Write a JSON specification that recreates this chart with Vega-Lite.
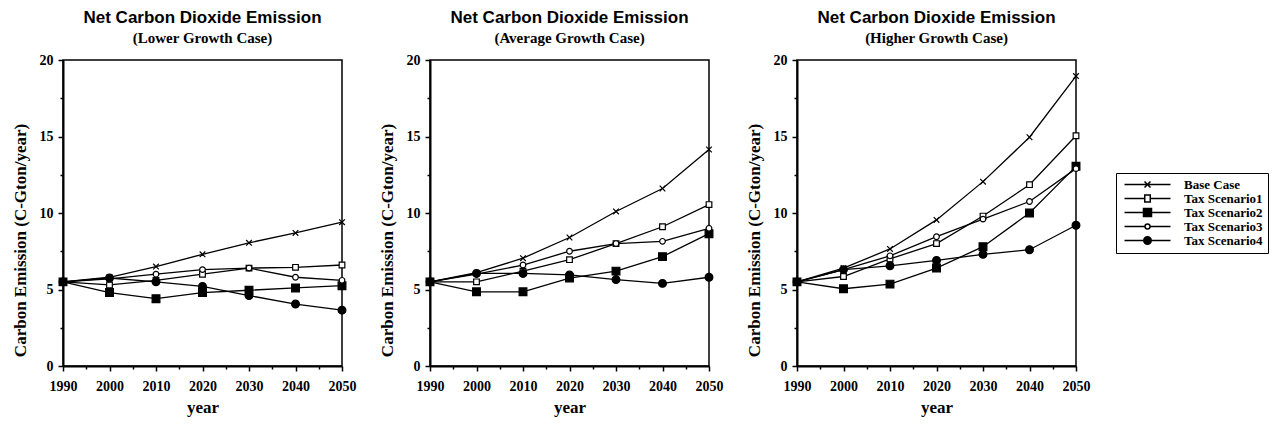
{
  "$schema": "https://vega.github.io/schema/vega-lite/v6.json",
  "background": "white",
  "padding": {"left": 10, "top": 8, "right": 5, "bottom": 5},
  "spacing": 20,
  "resolve": {"scale": {"shape": "independent", "fill": "independent"}},
  "datasets": {
    "emissions": [
      {"case": "Lower", "series": "Base Case", "year": 1990, "value": 5.5},
      {"case": "Lower", "series": "Base Case", "year": 2000, "value": 5.8},
      {"case": "Lower", "series": "Base Case", "year": 2010, "value": 6.5},
      {"case": "Lower", "series": "Base Case", "year": 2020, "value": 7.3},
      {"case": "Lower", "series": "Base Case", "year": 2030, "value": 8.05},
      {"case": "Lower", "series": "Base Case", "year": 2040, "value": 8.7},
      {"case": "Lower", "series": "Base Case", "year": 2050, "value": 9.4},
      {"case": "Lower", "series": "Tax Scenario1", "year": 1990, "value": 5.5},
      {"case": "Lower", "series": "Tax Scenario1", "year": 2000, "value": 5.3},
      {"case": "Lower", "series": "Tax Scenario1", "year": 2010, "value": 5.6},
      {"case": "Lower", "series": "Tax Scenario1", "year": 2020, "value": 6.0},
      {"case": "Lower", "series": "Tax Scenario1", "year": 2030, "value": 6.4},
      {"case": "Lower", "series": "Tax Scenario1", "year": 2040, "value": 6.45},
      {"case": "Lower", "series": "Tax Scenario1", "year": 2050, "value": 6.6},
      {"case": "Lower", "series": "Tax Scenario2", "year": 1990, "value": 5.5},
      {"case": "Lower", "series": "Tax Scenario2", "year": 2000, "value": 4.8},
      {"case": "Lower", "series": "Tax Scenario2", "year": 2010, "value": 4.4},
      {"case": "Lower", "series": "Tax Scenario2", "year": 2020, "value": 4.8},
      {"case": "Lower", "series": "Tax Scenario2", "year": 2030, "value": 4.95},
      {"case": "Lower", "series": "Tax Scenario2", "year": 2040, "value": 5.1},
      {"case": "Lower", "series": "Tax Scenario2", "year": 2050, "value": 5.25},
      {"case": "Lower", "series": "Tax Scenario3", "year": 1990, "value": 5.5},
      {"case": "Lower", "series": "Tax Scenario3", "year": 2000, "value": 5.7},
      {"case": "Lower", "series": "Tax Scenario3", "year": 2010, "value": 6.0},
      {"case": "Lower", "series": "Tax Scenario3", "year": 2020, "value": 6.3},
      {"case": "Lower", "series": "Tax Scenario3", "year": 2030, "value": 6.4},
      {"case": "Lower", "series": "Tax Scenario3", "year": 2040, "value": 5.8},
      {"case": "Lower", "series": "Tax Scenario3", "year": 2050, "value": 5.6},
      {"case": "Lower", "series": "Tax Scenario4", "year": 1990, "value": 5.5},
      {"case": "Lower", "series": "Tax Scenario4", "year": 2000, "value": 5.75},
      {"case": "Lower", "series": "Tax Scenario4", "year": 2010, "value": 5.5},
      {"case": "Lower", "series": "Tax Scenario4", "year": 2020, "value": 5.2},
      {"case": "Lower", "series": "Tax Scenario4", "year": 2030, "value": 4.6},
      {"case": "Lower", "series": "Tax Scenario4", "year": 2040, "value": 4.05},
      {"case": "Lower", "series": "Tax Scenario4", "year": 2050, "value": 3.65},

      {"case": "Average", "series": "Base Case", "year": 1990, "value": 5.5},
      {"case": "Average", "series": "Base Case", "year": 2000, "value": 6.1},
      {"case": "Average", "series": "Base Case", "year": 2010, "value": 7.05},
      {"case": "Average", "series": "Base Case", "year": 2020, "value": 8.4},
      {"case": "Average", "series": "Base Case", "year": 2030, "value": 10.1},
      {"case": "Average", "series": "Base Case", "year": 2040, "value": 11.6},
      {"case": "Average", "series": "Base Case", "year": 2050, "value": 14.15},
      {"case": "Average", "series": "Tax Scenario1", "year": 1990, "value": 5.5},
      {"case": "Average", "series": "Tax Scenario1", "year": 2000, "value": 5.5},
      {"case": "Average", "series": "Tax Scenario1", "year": 2010, "value": 6.2},
      {"case": "Average", "series": "Tax Scenario1", "year": 2020, "value": 6.95},
      {"case": "Average", "series": "Tax Scenario1", "year": 2030, "value": 8.0},
      {"case": "Average", "series": "Tax Scenario1", "year": 2040, "value": 9.1},
      {"case": "Average", "series": "Tax Scenario1", "year": 2050, "value": 10.55},
      {"case": "Average", "series": "Tax Scenario2", "year": 1990, "value": 5.5},
      {"case": "Average", "series": "Tax Scenario2", "year": 2000, "value": 4.85},
      {"case": "Average", "series": "Tax Scenario2", "year": 2010, "value": 4.85},
      {"case": "Average", "series": "Tax Scenario2", "year": 2020, "value": 5.75},
      {"case": "Average", "series": "Tax Scenario2", "year": 2030, "value": 6.2},
      {"case": "Average", "series": "Tax Scenario2", "year": 2040, "value": 7.15},
      {"case": "Average", "series": "Tax Scenario2", "year": 2050, "value": 8.65},
      {"case": "Average", "series": "Tax Scenario3", "year": 1990, "value": 5.5},
      {"case": "Average", "series": "Tax Scenario3", "year": 2000, "value": 6.0},
      {"case": "Average", "series": "Tax Scenario3", "year": 2010, "value": 6.6},
      {"case": "Average", "series": "Tax Scenario3", "year": 2020, "value": 7.5},
      {"case": "Average", "series": "Tax Scenario3", "year": 2030, "value": 8.0},
      {"case": "Average", "series": "Tax Scenario3", "year": 2040, "value": 8.15},
      {"case": "Average", "series": "Tax Scenario3", "year": 2050, "value": 9.0},
      {"case": "Average", "series": "Tax Scenario4", "year": 1990, "value": 5.5},
      {"case": "Average", "series": "Tax Scenario4", "year": 2000, "value": 6.05},
      {"case": "Average", "series": "Tax Scenario4", "year": 2010, "value": 6.05},
      {"case": "Average", "series": "Tax Scenario4", "year": 2020, "value": 5.95},
      {"case": "Average", "series": "Tax Scenario4", "year": 2030, "value": 5.65},
      {"case": "Average", "series": "Tax Scenario4", "year": 2040, "value": 5.4},
      {"case": "Average", "series": "Tax Scenario4", "year": 2050, "value": 5.8},

      {"case": "Higher", "series": "Base Case", "year": 1990, "value": 5.5},
      {"case": "Higher", "series": "Base Case", "year": 2000, "value": 6.4},
      {"case": "Higher", "series": "Base Case", "year": 2010, "value": 7.65},
      {"case": "Higher", "series": "Base Case", "year": 2020, "value": 9.55},
      {"case": "Higher", "series": "Base Case", "year": 2030, "value": 12.05},
      {"case": "Higher", "series": "Base Case", "year": 2040, "value": 14.95},
      {"case": "Higher", "series": "Base Case", "year": 2050, "value": 18.95},
      {"case": "Higher", "series": "Tax Scenario1", "year": 1990, "value": 5.5},
      {"case": "Higher", "series": "Tax Scenario1", "year": 2000, "value": 5.85},
      {"case": "Higher", "series": "Tax Scenario1", "year": 2010, "value": 7.0},
      {"case": "Higher", "series": "Tax Scenario1", "year": 2020, "value": 8.0},
      {"case": "Higher", "series": "Tax Scenario1", "year": 2030, "value": 9.8},
      {"case": "Higher", "series": "Tax Scenario1", "year": 2040, "value": 11.85},
      {"case": "Higher", "series": "Tax Scenario1", "year": 2050, "value": 15.05},
      {"case": "Higher", "series": "Tax Scenario2", "year": 1990, "value": 5.5},
      {"case": "Higher", "series": "Tax Scenario2", "year": 2000, "value": 5.05},
      {"case": "Higher", "series": "Tax Scenario2", "year": 2010, "value": 5.35},
      {"case": "Higher", "series": "Tax Scenario2", "year": 2020, "value": 6.4},
      {"case": "Higher", "series": "Tax Scenario2", "year": 2030, "value": 7.8},
      {"case": "Higher", "series": "Tax Scenario2", "year": 2040, "value": 10.0},
      {"case": "Higher", "series": "Tax Scenario2", "year": 2050, "value": 13.05},
      {"case": "Higher", "series": "Tax Scenario3", "year": 1990, "value": 5.5},
      {"case": "Higher", "series": "Tax Scenario3", "year": 2000, "value": 6.3},
      {"case": "Higher", "series": "Tax Scenario3", "year": 2010, "value": 7.2},
      {"case": "Higher", "series": "Tax Scenario3", "year": 2020, "value": 8.45},
      {"case": "Higher", "series": "Tax Scenario3", "year": 2030, "value": 9.6},
      {"case": "Higher", "series": "Tax Scenario3", "year": 2040, "value": 10.75},
      {"case": "Higher", "series": "Tax Scenario3", "year": 2050, "value": 12.9},
      {"case": "Higher", "series": "Tax Scenario4", "year": 1990, "value": 5.5},
      {"case": "Higher", "series": "Tax Scenario4", "year": 2000, "value": 6.3},
      {"case": "Higher", "series": "Tax Scenario4", "year": 2010, "value": 6.55},
      {"case": "Higher", "series": "Tax Scenario4", "year": 2020, "value": 6.9},
      {"case": "Higher", "series": "Tax Scenario4", "year": 2030, "value": 7.3},
      {"case": "Higher", "series": "Tax Scenario4", "year": 2040, "value": 7.6},
      {"case": "Higher", "series": "Tax Scenario4", "year": 2050, "value": 9.2}
    ]
  },
  "config": {
    "view": {"stroke": "black", "strokeWidth": 1.5},
    "title": {
      "font": "Liberation Sans", "fontSize": 17, "fontWeight": "bold", "color": "black",
      "subtitleFont": "Liberation Serif", "subtitleFontSize": 15, "subtitleFontWeight": "bold",
      "subtitleColor": "black", "subtitlePadding": 4, "offset": 6, "anchor": "middle"
    },
    "axis": {
      "grid": false, "domainColor": "black", "domainWidth": 2, "tickColor": "black", "tickWidth": 1.5,
      "labelFont": "Liberation Serif", "labelFontSize": 14, "labelFontWeight": "bold", "labelColor": "black",
      "titleFont": "Liberation Serif", "titleFontSize": 17, "titleFontWeight": "bold", "titleColor": "black"
    },
    "legend": {
      "orient": "none", "legendX": 319, "legendY": 113, "strokeColor": "black", "padding": 5,
      "labelFont": "Liberation Serif", "labelFontSize": 13, "labelFontWeight": "bold", "labelColor": "black",
      "symbolSize": 100, "symbolOffset": 20, "labelOffset": 30, "rowPadding": -2.5, "labelLimit": 200
    }
  },
  "hconcat": [
    {
      "width": 279, "height": 306,
      "title": {"text": "Net Carbon Dioxide Emission", "subtitle": "(Lower Growth Case)"},
      "data": {"name": "emissions"},
      "transform": [{"filter": "datum.case === 'Lower'"}],
      "encoding": {
        "x": {"field": "year", "type": "quantitative", "title": "year",
          "scale": {"domain": [1990, 2050], "nice": false, "zero": false},
          "axis": {"values": [1990, 1995, 2000, 2005, 2010, 2015, 2020, 2025, 2030, 2035, 2040, 2045, 2050], "format": "d",
            "labelExpr": "datum.value % 10 === 0 ? datum.label : ''", "labelPadding": 8, "titlePadding": 6, "labelFlush": false,
            "tickSize": {"condition": {"test": "datum.value % 10 === 0", "value": 5}, "value": 3}}},
        "y": {"field": "value", "type": "quantitative", "title": "Carbon Emission (C-Gton/year)",
          "scale": {"domain": [0, 20], "nice": false},
          "axis": {"values": [0, 2.5, 5, 7.5, 10, 12.5, 15, 17.5, 20],
            "labelExpr": "datum.value % 5 === 0 ? datum.label : ''", "labelPadding": 5, "titlePadding": 10, "titleY": 180,
            "tickSize": {"condition": {"test": "datum.value % 5 === 0", "value": 5}, "value": 3}}}
      },
      "layer": [
        {"mark": {"type": "line", "color": "black", "strokeWidth": 1.3}, "encoding": {"detail": {"field": "series"}}},
        {"mark": {"type": "point", "filled": true, "stroke": "black", "strokeWidth": 1.2, "opacity": 1},
          "encoding": {
            "shape": {"field": "series", "type": "nominal", "legend": null,
              "scale": {"domain": ["Base Case", "Tax Scenario1", "Tax Scenario2", "Tax Scenario3", "Tax Scenario4"],
                "range": ["M-1,-1L1,1M-1,1L1,-1", "square", "square", "circle", "circle"]}},
            "fill": {"field": "series", "type": "nominal", "legend": null,
              "scale": {"domain": ["Base Case", "Tax Scenario1", "Tax Scenario2", "Tax Scenario3", "Tax Scenario4"],
                "range": ["black", "white", "black", "white", "black"]}},
            "size": {"condition": {"test": "datum.series === 'Tax Scenario2' || datum.series === 'Tax Scenario4'", "value": 60}, "value": 32}
          }}
      ]
    },
    {
      "width": 279, "height": 306,
      "title": {"text": "Net Carbon Dioxide Emission", "subtitle": "(Average Growth Case)"},
      "data": {"name": "emissions"},
      "transform": [{"filter": "datum.case === 'Average'"}],
      "encoding": {
        "x": {"field": "year", "type": "quantitative", "title": "year",
          "scale": {"domain": [1990, 2050], "nice": false, "zero": false},
          "axis": {"values": [1990, 1995, 2000, 2005, 2010, 2015, 2020, 2025, 2030, 2035, 2040, 2045, 2050], "format": "d",
            "labelExpr": "datum.value % 10 === 0 ? datum.label : ''", "labelPadding": 8, "titlePadding": 6, "labelFlush": false,
            "tickSize": {"condition": {"test": "datum.value % 10 === 0", "value": 5}, "value": 3}}},
        "y": {"field": "value", "type": "quantitative", "title": "Carbon Emission (C-Gton/year)",
          "scale": {"domain": [0, 20], "nice": false},
          "axis": {"values": [0, 2.5, 5, 7.5, 10, 12.5, 15, 17.5, 20],
            "labelExpr": "datum.value % 5 === 0 ? datum.label : ''", "labelPadding": 5, "titlePadding": 10, "titleY": 180,
            "tickSize": {"condition": {"test": "datum.value % 5 === 0", "value": 5}, "value": 3}}}
      },
      "layer": [
        {"mark": {"type": "line", "color": "black", "strokeWidth": 1.3}, "encoding": {"detail": {"field": "series"}}},
        {"mark": {"type": "point", "filled": true, "stroke": "black", "strokeWidth": 1.2, "opacity": 1},
          "encoding": {
            "shape": {"field": "series", "type": "nominal", "legend": null,
              "scale": {"domain": ["Base Case", "Tax Scenario1", "Tax Scenario2", "Tax Scenario3", "Tax Scenario4"],
                "range": ["M-1,-1L1,1M-1,1L1,-1", "square", "square", "circle", "circle"]}},
            "fill": {"field": "series", "type": "nominal", "legend": null,
              "scale": {"domain": ["Base Case", "Tax Scenario1", "Tax Scenario2", "Tax Scenario3", "Tax Scenario4"],
                "range": ["black", "white", "black", "white", "black"]}},
            "size": {"condition": {"test": "datum.series === 'Tax Scenario2' || datum.series === 'Tax Scenario4'", "value": 60}, "value": 32}
          }}
      ]
    },
    {
      "width": 279, "height": 306,
      "title": {"text": "Net Carbon Dioxide Emission", "subtitle": "(Higher Growth Case)"},
      "data": {"name": "emissions"},
      "transform": [{"filter": "datum.case === 'Higher'"}],
      "resolve": {"scale": {"shape": "independent", "fill": "independent"}},
      "encoding": {
        "x": {"field": "year", "type": "quantitative", "title": "year",
          "scale": {"domain": [1990, 2050], "nice": false, "zero": false},
          "axis": {"values": [1990, 1995, 2000, 2005, 2010, 2015, 2020, 2025, 2030, 2035, 2040, 2045, 2050], "format": "d",
            "labelExpr": "datum.value % 10 === 0 ? datum.label : ''", "labelPadding": 8, "titlePadding": 6, "labelFlush": false,
            "tickSize": {"condition": {"test": "datum.value % 10 === 0", "value": 5}, "value": 3}}},
        "y": {"field": "value", "type": "quantitative", "title": "Carbon Emission (C-Gton/year)",
          "scale": {"domain": [0, 20], "nice": false},
          "axis": {"values": [0, 2.5, 5, 7.5, 10, 12.5, 15, 17.5, 20],
            "labelExpr": "datum.value % 5 === 0 ? datum.label : ''", "labelPadding": 5, "titlePadding": 10, "titleY": 180,
            "tickSize": {"condition": {"test": "datum.value % 5 === 0", "value": 5}, "value": 3}}}
      },
      "layer": [
        {"mark": {"type": "line", "color": "black", "strokeWidth": 1.3}, "encoding": {"detail": {"field": "series"}}},
        {"mark": {"type": "point", "filled": true, "stroke": "black", "strokeWidth": 1.2, "opacity": 1},
          "encoding": {
            "shape": {"field": "series", "type": "nominal", "legend": null,
              "scale": {"domain": ["Base Case", "Tax Scenario1", "Tax Scenario2", "Tax Scenario3", "Tax Scenario4"],
                "range": ["M-1,-1L1,1M-1,1L1,-1", "square", "square", "circle", "circle"]}},
            "fill": {"field": "series", "type": "nominal", "legend": null,
              "scale": {"domain": ["Base Case", "Tax Scenario1", "Tax Scenario2", "Tax Scenario3", "Tax Scenario4"],
                "range": ["black", "white", "black", "white", "black"]}},
            "size": {"condition": {"test": "datum.series === 'Tax Scenario2' || datum.series === 'Tax Scenario4'", "value": 60}, "value": 32}
          }},
        {"transform": [{"filter": "datum.year < 0"}],
          "mark": {"type": "point", "filled": true, "stroke": "black", "strokeWidth": 1.2, "opacity": 1},
          "encoding": {
            "shape": {"field": "series", "type": "nominal",
              "scale": {"domain": ["Base Case", "Tax Scenario1", "Tax Scenario2", "Tax Scenario3", "Tax Scenario4"],
                "range": [
                  "M-4.6,0H4.6M-0.6,-0.6L0.6,0.6M-0.6,0.6L0.6,-0.6",
                  "M-4.6,0H-0.55M0.55,0H4.6M-0.55,-0.7H0.55V0.7H-0.55Z",
                  "M-4.6,0H4.6M-0.8,-0.8H0.8V0.8H-0.8Z",
                  "M-4.6,0H-0.5M0.5,0H4.6M-0.5,0A0.5,0.5,0,1,0,0.5,0A0.5,0.5,0,1,0,-0.5,0Z",
                  "M-4.6,0H4.6M-0.75,0A0.75,0.75,0,1,0,0.75,0A0.75,0.75,0,1,0,-0.75,0Z"]},
              "legend": {"title": null}},
            "fill": {"field": "series", "type": "nominal",
              "scale": {"domain": ["Base Case", "Tax Scenario1", "Tax Scenario2", "Tax Scenario3", "Tax Scenario4"],
                "range": ["black", "white", "black", "white", "black"]},
              "legend": {"title": null}}
          }}
      ]
    }
  ]
}
